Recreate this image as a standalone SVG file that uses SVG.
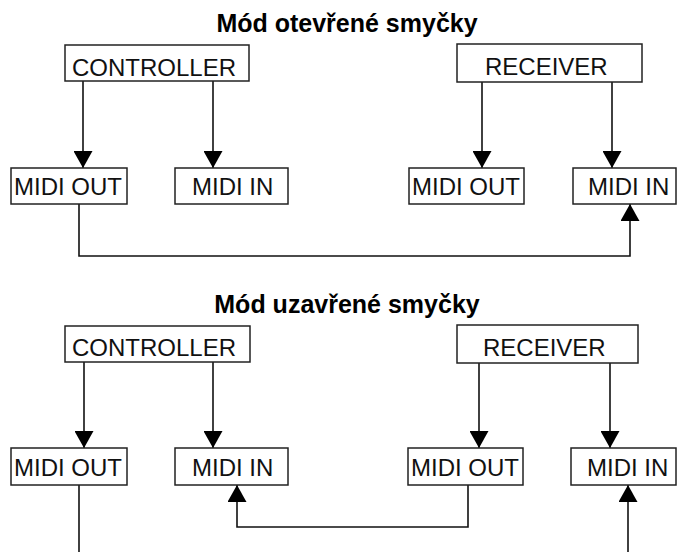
<svg xmlns="http://www.w3.org/2000/svg" width="679" height="552" viewBox="0 0 679 552">
<style>
.box{fill:#fff;stroke:#222;stroke-width:1.5}
.lbl{font-family:"Liberation Sans",Arial,sans-serif;font-size:24px;fill:#111}
.ttl{font-family:"Liberation Sans",Arial,sans-serif;font-size:25px;font-weight:bold;fill:#000;text-anchor:middle}
.wire{fill:none;stroke:#111;stroke-width:1.6}
</style>
<defs>
<marker id="ah" markerUnits="userSpaceOnUse" markerWidth="18" markerHeight="19" refX="17" refY="9.5" orient="auto">
<path d="M0,0 L17,9.5 L0,19 z" fill="#000"/>
</marker>
</defs>
<rect width="679" height="552" fill="#fff"/>
<text class="ttl" x="347" y="32">Mód otevřené smyčky</text>
<text class="ttl" x="347" y="313">Mód uzavřené smyčky</text>

<g id="connectors">
<line class="wire" x1="83" y1="81" x2="83" y2="168" marker-end="url(#ah)"/>
<line class="wire" x1="213" y1="81" x2="213" y2="168" marker-end="url(#ah)"/>
<line class="wire" x1="482" y1="82" x2="482" y2="168" marker-end="url(#ah)"/>
<line class="wire" x1="612" y1="82" x2="612" y2="168" marker-end="url(#ah)"/>
<polyline class="wire" points="79,204 79,256 630,256 630,204" marker-end="url(#ah)"/>

<line class="wire" x1="84" y1="362" x2="84" y2="448" marker-end="url(#ah)"/>
<line class="wire" x1="213" y1="362" x2="213" y2="448" marker-end="url(#ah)"/>
<line class="wire" x1="479" y1="363" x2="479" y2="448" marker-end="url(#ah)"/>
<line class="wire" x1="610" y1="363" x2="610" y2="448" marker-end="url(#ah)"/>
<polyline class="wire" points="468,485 468,527 237,527 237,485" marker-end="url(#ah)"/>
<line class="wire" x1="79" y1="485" x2="79" y2="552"/>
<line class="wire" x1="628" y1="552" x2="628" y2="485" marker-end="url(#ah)"/>
</g>

<g id="controller1"><rect class="box" x="65" y="45" width="184" height="36"/><text class="lbl" x="72" y="76">CONTROLLER</text></g>
<g id="receiver1"><rect class="box" x="457" y="44" width="185" height="38"/><text class="lbl" x="485" y="75">RECEIVER</text></g>
<g id="midiout1"><rect class="box" x="11" y="168" width="116" height="36"/><text class="lbl" x="14" y="195">MIDI OUT</text></g>
<g id="midiin1"><rect class="box" x="175" y="168" width="113" height="36"/><text class="lbl" x="192" y="195">MIDI IN</text></g>
<g id="midiout2"><rect class="box" x="409" y="168" width="115" height="36"/><text class="lbl" x="412" y="195">MIDI OUT</text></g>
<g id="midiin2"><rect class="box" x="573" y="168" width="103" height="36"/><text class="lbl" x="588" y="195">MIDI IN</text></g>

<g id="controller2"><rect class="box" x="65" y="326" width="185" height="36"/><text class="lbl" x="72" y="356">CONTROLLER</text></g>
<g id="receiver2"><rect class="box" x="457" y="325" width="181" height="38"/><text class="lbl" x="483" y="356">RECEIVER</text></g>
<g id="midiout3"><rect class="box" x="11" y="448" width="116" height="37"/><text class="lbl" x="14" y="476">MIDI OUT</text></g>
<g id="midiin3"><rect class="box" x="175" y="448" width="113" height="37"/><text class="lbl" x="192" y="476">MIDI IN</text></g>
<g id="midiout4"><rect class="box" x="408" y="448" width="115" height="37"/><text class="lbl" x="411" y="476">MIDI OUT</text></g>
<g id="midiin4"><rect class="box" x="571" y="448" width="105" height="37"/><text class="lbl" x="587" y="476">MIDI IN</text></g>
</svg>
